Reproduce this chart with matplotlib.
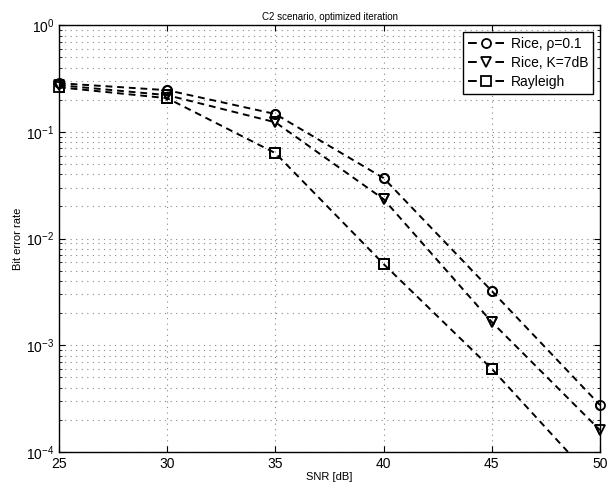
import numpy as np
import matplotlib
matplotlib.use("Agg")
from matplotlib import pyplot as plt
from matplotlib.ticker import LogLocator, NullFormatter

plt.rcParams['font.family'] = ['Liberation Sans', 'DejaVu Sans']

# data
snr = [25, 30, 35, 40, 45, 50]
ber_rice_rho = [0.286, 0.246, 0.147, 0.0369, 0.00322, 2.75e-4]
ber_rice_k = [0.274, 0.221, 0.123, 0.0234, 1.65e-3, 1.6e-4]
ber_rayleigh = [0.262, 0.207, 0.0632, 5.77e-3, 6.0e-4, 4.7e-5]

ymin, ymax = 1e-4, 1

fig = plt.figure(figsize=(6.08, 4.94), dpi=100)
ax = fig.add_axes([0.097, 0.085, 0.89, 0.864])

style = dict(color='black', linestyle='--', linewidth=1.4, markersize=6.5,
             markerfacecolor='none', markeredgewidth=1.3, dashes=(3.5, 2.5))
series = [(ber_rice_rho, 'o', u'Rice, \u03c1=0.1'),
          (ber_rice_k, 'v', 'Rice, K=7dB'),
          (ber_rayleigh, 's', 'Rayleigh')]
for ber, mk, lab in series:
    ax.semilogy(snr, ber, marker=mk, label=lab, **style)
    # markers inside the range are drawn whole, like matlab
    x = np.array(snr)
    y = np.array(ber)
    inside = (y >= ymin) & (y <= ymax)
    ax.plot(x[inside], y[inside], linestyle='none', marker=mk, color='black',
            markersize=6.5, markerfacecolor='none', markeredgewidth=1.3, clip_on=False)

ax.set_xlim(25, 50)
ax.set_ylim(ymin, ymax)
ax.set_xticks(snr)
ax.yaxis.set_major_locator(LogLocator(base=10, numticks=10))
ax.yaxis.set_minor_locator(LogLocator(base=10, subs=np.arange(2, 10), numticks=10))
ax.yaxis.set_minor_formatter(NullFormatter())

gridstyle = dict(linestyle=(0, (1, 4)), color='#888888', linewidth=0.8)
ax.grid(True, which='major', **gridstyle)
ax.grid(True, which='minor', axis='y', **gridstyle)

ax.tick_params(which='both', direction='in', top=True, right=True, labelsize=10)
ax.tick_params(which='major', length=4)
ax.tick_params(which='minor', length=2)
for s in ax.spines.values():
    s.set_linewidth(1.0)

ax.set_xlabel('SNR [dB]', fontsize=8, labelpad=1)
ax.set_ylabel('Bit error rate', fontsize=8, labelpad=2)
ax.set_title('C2 scenario, optimized iteration', fontsize=7, pad=4)

leg = ax.legend(loc='upper right', fontsize=10, fancybox=False, framealpha=1,
                edgecolor='black', handlelength=2.6, borderaxespad=0.5,
                labelspacing=0.35, handletextpad=0.5, borderpad=0.35)
leg.get_frame().set_linewidth(1.0)
# legend entries look like "- o -"
for h in leg.legend_handles:
    h.set_dashes((4.5, 9.6))

fig.savefig('out.png', dpi=100)
